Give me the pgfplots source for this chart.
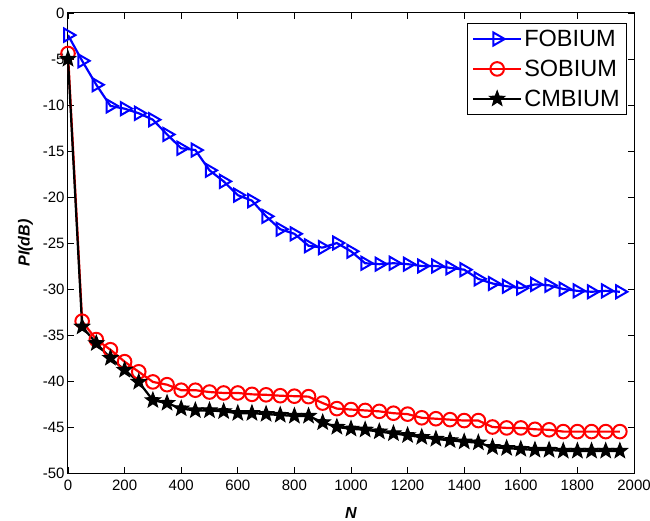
\documentclass[border=0pt]{standalone}
\usepackage{pgfplots}
\pgfplotsset{compat=1.18}
\usepackage{fontspec}
\setmainfont{Liberation Sans}

% filled five-pointed star, as in the MATLAB figure
\pgfdeclareplotmark{pstar}{%
  \pgfpathmoveto{\pgfpointpolar{90}{\pgfplotmarksize}}%
  \pgfpathlineto{\pgfpointpolar{126}{0.42\pgfplotmarksize}}%
  \pgfpathlineto{\pgfpointpolar{162}{\pgfplotmarksize}}%
  \pgfpathlineto{\pgfpointpolar{198}{0.42\pgfplotmarksize}}%
  \pgfpathlineto{\pgfpointpolar{234}{\pgfplotmarksize}}%
  \pgfpathlineto{\pgfpointpolar{270}{0.42\pgfplotmarksize}}%
  \pgfpathlineto{\pgfpointpolar{306}{\pgfplotmarksize}}%
  \pgfpathlineto{\pgfpointpolar{342}{0.42\pgfplotmarksize}}%
  \pgfpathlineto{\pgfpointpolar{18}{\pgfplotmarksize}}%
  \pgfpathlineto{\pgfpointpolar{54}{0.42\pgfplotmarksize}}%
  \pgfpathclose
  \pgfusepathqfillstroke
}

\pgfplotstableread{
N    fo     so     cm
0    -2.4   -4.4   -5.0
50   -5.2   -33.5  -34.1
100  -7.8   -35.5  -35.9
150  -10.1  -36.6  -37.5
200  -10.4  -37.9  -38.8
250  -10.9  -39.0  -40.1
300  -11.6  -40.1  -42.1
350  -13.2  -40.4  -42.4
400  -14.7  -41.0  -43.0
450  -14.9  -41.0  -43.2
500  -17.1  -41.2  -43.2
550  -18.3  -41.3  -43.3
600  -19.8  -41.3  -43.5
650  -20.4  -41.45 -43.5
700  -22.1  -41.5  -43.6
750  -23.5  -41.6  -43.7
800  -24.0  -41.65 -43.8
850  -25.3  -41.7  -43.8
900  -25.5  -42.4  -44.5
950  -25.0  -43.0  -45.0
1000 -25.9  -43.1  -45.2
1050 -27.2  -43.2  -45.3
1100 -27.3  -43.3  -45.5
1150 -27.2  -43.5  -45.7
1200 -27.3  -43.6  -45.9
1250 -27.5  -44.0  -46.1
1300 -27.5  -44.1  -46.3
1350 -27.7  -44.2  -46.45
1400 -27.9  -44.3  -46.6
1450 -28.9  -44.3  -46.7
1500 -29.4  -45.0  -47.2
1550 -29.7  -45.1  -47.3
1600 -29.9  -45.1  -47.4
1650 -29.5  -45.25 -47.5
1700 -29.6  -45.3  -47.5
1750 -30.0  -45.5  -47.6
1800 -30.2  -45.5  -47.6
1850 -30.3  -45.5  -47.6
1900 -30.2  -45.5  -47.6
1950 -30.3  -45.5  -47.6
}\datatable

\begin{document}
\begin{tikzpicture}
\useasboundingbox (-68pt,-47pt) rectangle (582pt,473pt);
\begin{axis}[
    scale only axis,
    width=566pt,
    height=460pt,
    xmin=0, xmax=2000,
    ymin=-50, ymax=0,
    xtick={0,200,...,2000},
    ytick={-50,-45,...,0},
    tick align=inside,
    major tick length=6pt,
    tick style={black, line width=0.8pt},
    axis line style={line width=1pt},
    /pgf/number format/assume math mode=true,
    /pgf/number format/1000 sep={},
    ticklabel style={font=\fontsize{15}{18}\selectfont},
    xticklabel style={yshift=-3pt},
    xlabel={\textbf{\textit{N}}},
    ylabel={\textbf{\textit{PI(dB)}}},
    label style={font=\fontsize{16}{19}\selectfont},
    xlabel style={yshift=-10pt},
    ylabel style={yshift=3pt},
    legend cell align=left,
    legend style={
        at={(0.9876,0.979)}, anchor=north east,
        draw=black, line width=0.8pt,
        font=\fontsize{23.5}{28}\selectfont,
        inner xsep=5pt, inner ysep=5pt,
        row sep=8pt,
    },
    legend image code/.code={
        \draw[mark repeat=2, mark phase=2] plot coordinates {(0pt,0pt) (24pt,0pt) (48pt,0pt)};
    },
]
\addplot[blue, line width=2.2pt, mark=triangle, mark size=7.5pt,
    mark options={rotate=-90, line width=2pt}] table[x=N, y=fo] {\datatable};
\addlegendentry{FOBIUM}
\addplot[red, line width=2.2pt, mark=o, mark size=6.8pt,
    mark options={line width=2pt}] table[x=N, y=so] {\datatable};
\addlegendentry{SOBIUM}
\addplot[black, line width=2.2pt, mark=pstar, mark size=8pt,
    mark options={line width=1pt, fill=black}] table[x=N, y=cm] {\datatable};
\addlegendentry{CMBIUM}
\end{axis}
\end{tikzpicture}
\end{document}
